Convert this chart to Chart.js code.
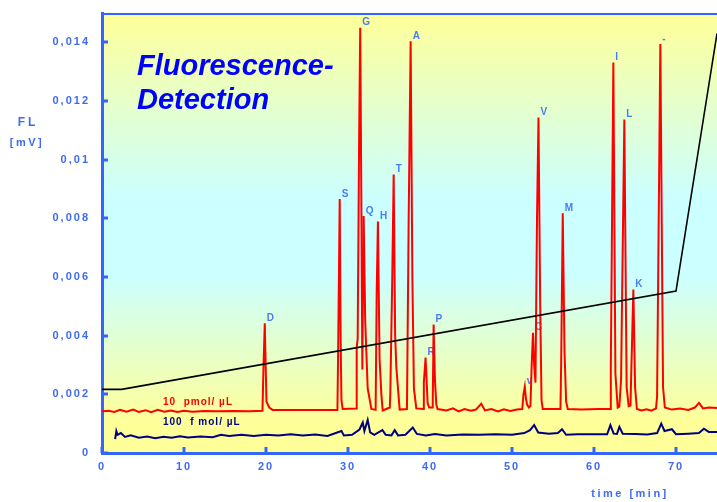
<!DOCTYPE html>
<html>
<head>
<meta charset="utf-8">
<script src="https://cdn.jsdelivr.net/npm/chart.js@4.4.1/dist/chart.umd.min.js"></script>
<style>
html,body{margin:0;padding:0;background:#fff}
#wrap{width:717px;height:502px;position:relative}
</style>
</head>
<body>
<div id="wrap"><canvas id="fl"></canvas></div>
<script>

// 10 pmol/uL run (time in min, FL in mV)
const redTime = [
0,0.8,1.5,2.2,3.0,3.8,4.5,5.3,6.0,6.8,7.6,8.4,9.2,10.0,11.0,12.5,14.0,16.0,18.0,
19.57,19.7,19.85,19.95,20.06,20.4,20.8,23.0,26.0,
28.71,28.8,28.99,29.1,29.2,29.35,31.0,
31.06,31.18,31.35,31.49,31.62,31.75,31.85,31.91,32.1,32.4,32.85,
33.37,33.5,33.65,33.85,34.07,34.23,35.1,
35.16,35.4,35.57,35.75,35.9,36.3,37.19,
37.4,37.64,37.85,38.04,38.33,39.2,
39.25,39.46,39.6,39.71,39.89,40.33,
40.44,40.6,40.77,40.93,
42.0,42.8,43.5,44.2,45.0,45.6,46.25,46.7,47.5,48.3,49.0,49.8,50.6,51.25,
51.4,51.56,51.7,51.85,52.05,52.25,52.4,52.56,52.7,52.86,53.05,53.23,53.44,53.6,53.75,
55.91,56.0,56.19,56.4,56.6,56.8,58.5,60.5,
62.0,62.05,62.36,62.61,62.89,63.09,63.3,63.7,63.98,64.23,64.45,64.52,64.8,65.01,65.23,
65.8,66.4,67.0,67.56,67.69,68.09,68.42,68.64,
69.5,70.5,71.5,72.3,72.8,73.3,74.0,75.0
]
const redFL = [
0.00142,0.00144,0.00140,0.00147,0.00141,0.00148,0.00140,0.00146,0.00139,0.00147,0.00141,0.00145,0.00140,0.00144,0.00141,0.00143,0.00142,0.00143,0.00142,
0.00144,0.00300,0.00442,0.00310,0.00175,0.00155,0.00147,0.00147,0.00147,
0.00147,0.00350,0.00866,0.00400,0.00180,0.00150,0.00152,
0.00360,0.00390,0.01050,0.01450,0.00900,0.00285,0.00650,0.00808,0.00450,0.00220,0.00150,
0.00147,0.00550,0.00789,0.00320,0.00200,0.00145,0.00155,
0.00205,0.00600,0.00949,0.00400,0.00290,0.00148,0.00150,
0.00800,0.01404,0.00600,0.00220,0.00152,0.00150,
0.00241,0.00325,0.00240,0.00170,0.00155,0.00155,
0.00438,0.00250,0.00165,0.00150,
0.00145,0.00152,0.00142,0.00150,0.00144,0.00148,0.00168,0.00145,0.00150,0.00142,0.00149,0.00143,0.00148,0.00150,
0.00200,0.00226,0.00185,0.00165,0.00155,0.00160,0.00300,0.00410,0.00300,0.00240,0.00800,0.01144,0.00500,0.00180,0.00150,
0.00150,0.00315,0.00817,0.00350,0.00175,0.00150,0.00148,0.00150,
0.00150,0.00292,0.01331,0.00270,0.00155,0.00158,0.00250,0.01137,0.00224,0.00160,0.00162,0.00247,0.00557,0.00224,0.00150,
0.00145,0.00149,0.00144,0.00152,0.00190,0.01394,0.00224,0.00155,
0.00148,0.00152,0.00147,0.00155,0.00171,0.00152,0.00155,0.00153
]

// 100 fmol/uL run
const navyTime = [
1.6,1.75,1.9,2.3,2.8,3.5,4.5,5.5,6.5,7.5,8.5,9.5,10.5,12.0,13.5,14.5,15.5,17.0,18.5,20.0,
21.5,23.0,24.5,26.0,27.5,29.2,29.5,30.5,31.4,31.8,32.0,32.4,32.7,33.2,34.2,34.6,35.3,35.7,
36.1,37.0,37.9,38.4,39.5,40.6,42.0,44.0,46.0,48.0,50.0,51.5,52.2,52.7,53.2,54.5,55.6,56.1,
56.6,58.0,60.0,61.6,62.0,62.4,62.8,63.1,63.5,65.0,66.5,67.7,68.2,68.6,69.5,70.0,71.5,72.8,
73.4,74.0,75.0
]
const navyFL = [
0.00047,0.00075,0.00062,0.00068,0.00055,0.00060,0.00052,0.00056,0.00050,0.00055,0.00052,0.00057,0.00053,0.00056,0.00054,0.00062,0.00058,0.00062,0.00058,0.00062,
0.00060,0.00064,0.00060,0.00063,0.00058,0.00075,0.00060,0.00062,0.00080,0.00104,0.00075,0.00113,0.00070,0.00062,0.00078,0.00062,0.00060,0.00078,
0.00060,0.00062,0.00087,0.00065,0.00060,0.00065,0.00060,0.00063,0.00062,0.00064,0.00062,0.00068,0.00078,0.00095,0.00070,0.00066,0.00068,0.00081,
0.00062,0.00064,0.00064,0.00064,0.00095,0.00066,0.00065,0.00089,0.00066,0.00065,0.00063,0.00068,0.00100,0.00075,0.00081,0.00064,0.00066,0.00068,
0.00083,0.00072,0.00072
]

// gradient program line
const gradTime = [0,2.4,70,75]
const gradFL = [0.00217,0.00217,0.00552,0.0143]

// peak labels
const peakNames = ["D","S","G","Q","H","T","A","R","P","v","C","V","M","I","L","K","-"]
const peakTimes = [19.85,28.99,31.49,31.91,33.65,35.57,37.64,39.46,40.44,51.56,52.56,53.23,56.19,62.36,63.7,64.8,68.09]
const peakLevels = [0.00442,0.00866,0.0145,0.00808,0.00789,0.00949,0.01404,0.00325,0.00438,0.00226,0.0041,0.01144,0.00817,0.01331,0.01137,0.00557,0.01394]

const xTicks = [0,10,20,30,40,50,60,70]
const yTicks = [0,0.002,0.004,0.006,0.008,0.01,0.012,0.014]

const axisBlue = "#3366ff"
const textBlue = "#3d6cf2"
const boldFont = "'Liberation Sans', Arial, sans-serif"

function pts(xs, ys){
return xs.map((x,i)=>({x:x, y:ys[i]}))
}

const decor = {
id:"decor",
beforeDraw(chart){
const {ctx, chartArea:a} = chart
ctx.save()
ctx.fillStyle = "#ffffff"
ctx.fillRect(0,0,chart.width,chart.height)
const g = ctx.createLinearGradient(0,a.top,0,a.bottom)
g.addColorStop(0,"#ffff99")
g.addColorStop(0.42,"#ccffff")
g.addColorStop(0.6,"#ccffff")
g.addColorStop(0.93,"#ffff99")
g.addColorStop(1,"#ffff99")
ctx.fillStyle = g
ctx.fillRect(a.left,a.top,a.right-a.left,a.bottom-a.top)
ctx.restore()
ctx.letterSpacing = "2px"
},
beforeDatasetsDraw(chart){
const {ctx} = chart
const xs = chart.scales.x, ys = chart.scales.y
ctx.save()
ctx.letterSpacing = "0px"
ctx.font = "bold 10px " + boldFont
ctx.fillStyle = "#4a7cf2"
ctx.textAlign = "left"
ctx.textBaseline = "middle"
peakNames.forEach((n,i)=>{
ctx.fillText(n, xs.getPixelForValue(peakTimes[i]) + 2, ys.getPixelForValue(peakLevels[i]) - 5)
})
ctx.restore()
},
afterDraw(chart){
const {ctx, chartArea:a} = chart
const xs = chart.scales.x, ys = chart.scales.y
ctx.save()
ctx.strokeStyle = axisBlue
ctx.lineWidth = 2
ctx.beginPath()
ctx.moveTo(a.left,a.top+1)
ctx.lineTo(a.right,a.top+1)
ctx.stroke()
ctx.lineWidth = 3
ctx.beginPath()
yTicks.forEach(v=>{
const p = Math.round(ys.getPixelForValue(v))
ctx.moveTo(a.left,p)
ctx.lineTo(a.left+6,p)
})
xTicks.forEach(v=>{
const p = Math.round(xs.getPixelForValue(v))
ctx.moveTo(p,a.bottom)
ctx.lineTo(p,a.bottom-6)
})
ctx.stroke()

ctx.letterSpacing = "0px"
ctx.fillStyle = "#0000ff"
ctx.font = "italic bold 29px " + boldFont
ctx.textAlign = "left"
ctx.textBaseline = "alphabetic"
ctx.fillText("Fluorescence-", a.left+35, 75)
ctx.fillText("Detection", a.left+35, 109)

ctx.fillStyle = textBlue
ctx.textAlign = "center"
ctx.textBaseline = "middle"
ctx.letterSpacing = "3px"
ctx.font = "bold 12px " + boldFont
ctx.fillText("FL", 28, 123)
ctx.letterSpacing = "2.5px"
ctx.font = "bold 11px " + boldFont
ctx.fillText("[mV]", 27, 143)
ctx.fillText("time [min]", 630, 494)

ctx.textAlign = "left"
ctx.letterSpacing = "1px"
ctx.font = "bold 10px " + boldFont
ctx.fillStyle = "#ff0000"
ctx.fillText("10  pmol/ µL", 163, 402)
ctx.fillStyle = "#000080"
ctx.fillText("100  f mol/ µL", 163, 422)
ctx.restore()
}
}

new Chart(
document.getElementById("fl"),
{
type:"line",
data:{
datasets:[
{label:"gradient", data:pts(gradTime,gradFL), borderColor:"#000000", borderWidth:1.6},
{label:"10 pmol/µL", data:pts(redTime,redFL), borderColor:"#ff0000", borderWidth:2},
{label:"100 fmol/µL", data:pts(navyTime,navyFL), borderColor:"#000080", borderWidth:2}
]
},
options:{
responsive:true,
maintainAspectRatio:false,
animation:false,
devicePixelRatio:1,
layout:{padding:{top:13,left:0,right:0,bottom:0}},
elements:{point:{radius:0}, line:{tension:0}},
plugins:{legend:{display:false}, tooltip:{enabled:false}},
scales:{
x:{
type:"linear", min:0, max:75,
grid:{display:false, drawTicks:false},
border:{display:true, color:axisBlue, width:3},
afterBuildTicks:s=>{ s.ticks = xTicks.map(v=>({value:v})) },
afterFit:s=>{ s.height = 49; s.paddingLeft = 0; s.paddingRight = 0 },
ticks:{padding:7, color:textBlue, font:{family:boldFont, weight:"bold", size:11}}
},
y:{
type:"linear", min:0, max:0.015,
grid:{display:false, drawTicks:false},
border:{display:true, color:axisBlue, width:3},
afterBuildTicks:s=>{ s.ticks = yTicks.map(v=>({value:v})) },
afterFit:s=>{ s.width = 102; s.paddingTop = 0; s.paddingBottom = 0 },
ticks:{
padding:12, color:textBlue, font:{family:boldFont, weight:"bold", size:11},
callback:v=> v===0 ? "0" : v.toFixed(3).replace(/0+$/,"").replace(".",",")
}
}
}
},
plugins:[decor]
})

</script>
</body>
</html>
